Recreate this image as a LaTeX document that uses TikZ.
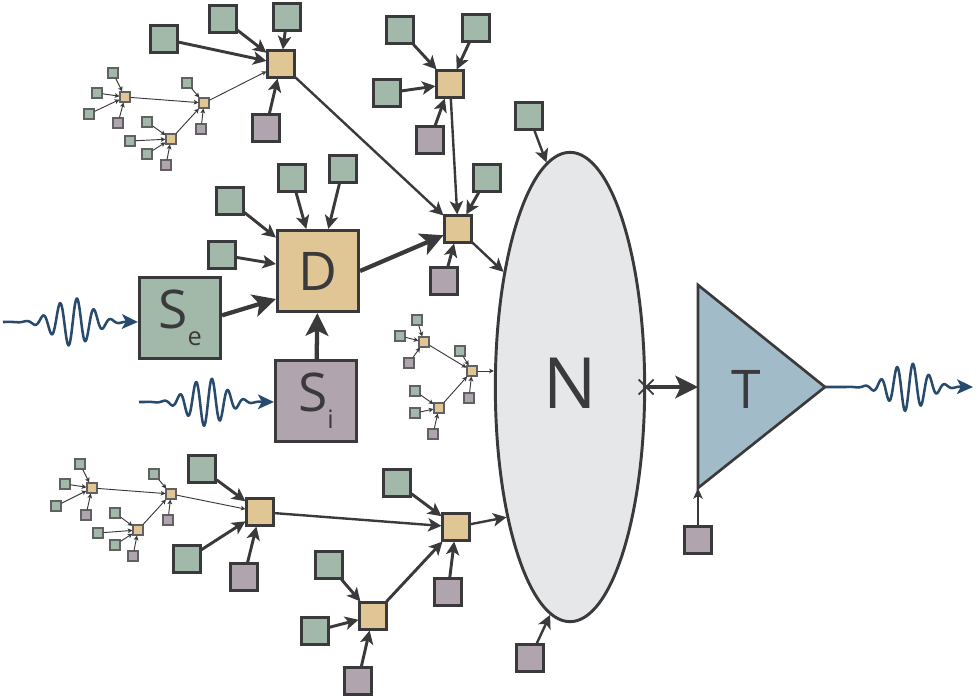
\documentclass[tikz,border=0pt]{standalone}
\usepackage{fontspec}
\setmainfont{Open Sans}
\usetikzlibrary{arrows.meta,shapes.geometric,shapes.misc}
\definecolor{dk}{HTML}{3A3A3C}
\definecolor{cgrn}{HTML}{A2B9A9}
\definecolor{ctan}{HTML}{E0C595}
\definecolor{cpur}{HTML}{B0A5AF}
\definecolor{cell}{HTML}{E6E7E9}
\definecolor{ctri}{HTML}{A1BCC8}
\definecolor{cwave}{HTML}{284A6C}
\tikzset{
    grn/.style={fill=cgrn}, tn/.style={fill=ctan}, pur/.style={fill=cpur},
    med/.style={draw=dk, line width=1.8pt, minimum size=20pt, inner sep=0pt},
    mini/.style={draw=dk!80, line width=0.8pt, minimum size=7.5pt, inner sep=0pt},
    big/.style={draw=dk, line width=2.6pt, minimum size=60.5pt, inner sep=0pt, text=dk},
    marr/.style={draw=dk, line width=2.2pt, -{Stealth[length=10pt,width=10pt,inset=2.5pt]}},
    larr/.style={draw=dk, line width=3.2pt, -{Stealth[length=17pt,width=17pt,inset=4pt]}},
    sarr/.style={draw=dk, line width=0.7pt, -{Stealth[length=3.5pt,width=3.5pt,inset=0.8pt]}},
    wave/.style={draw=cwave, line width=1.9pt, -{Stealth[length=12pt,width=11pt,inset=3pt]}},
}
\begin{document}
\begin{tikzpicture}[x=0.75pt, y=-0.75pt]
    \useasboundingbox (0,0) rectangle (976,700);
    % network and readout
    \node[ellipse, draw=dk, fill=cell, line width=2.2pt, minimum width=112pt,
        minimum height=352pt, inner sep=0pt] (n) at (570,387) {};
    \node[text=dk, font=\fontsize{53}{53}\selectfont] (nl) at (570,383) {N};
    \coordinate (tw) at (698,387);
    \coordinate (tb) at (698,488);
    \coordinate (tr) at (825,387);
    \draw[draw=dk, fill=ctri, line width=2pt, line join=miter] (698,285) -- (tr) -- (tb) -- cycle;
    \node[text=dk, font=\fontsize{40}{40}\selectfont] (tl) at (746,389) {T};
    \node[cross out, draw=dk, line width=1.3pt, minimum size=10pt, inner sep=0pt] (x) at (n.east) {};
    \draw[larr, line width=2.4pt] (n.east) -- (tw);
    % big boxes
    \node[big, tn, font=\fontsize{40}{40}\selectfont] (d) at (318,271) {D};
    \node[big, grn, font=\fontsize{40}{40}\selectfont] (se) at (180,318)
        {S\raisebox{-13pt}{\fontsize{19}{19}\selectfont e}};
    \node[big, pur, font=\fontsize{40}{40}\selectfont] (si) at (316,401)
        {S\raisebox{-13pt}{\fontsize{19}{19}\selectfont i}};
    % medium boxes
    \foreach \n/\x/\y in {a1/281/64, a2/450/84, b/458/229, c1/260/512, c2/456/527, c3/373/616}
        \node[med, tn] (\n) at (\x,\y) {};
    \foreach \n/\x/\y in {a1g1/164/39, a1g2/223/19, a1g3/287/17, a2g1/400/30, a2g2/476/28,
        a2g3/387/93, bg/487/178, ng/529/116, dg1/230/201, dg2/292/178, dg3/343/169,
        dg4/222/255, c1g1/202/469, c1g2/187/559, c2g/397/483, c3g1/329/565, c3g2/315/631}
        \node[med, grn] (\n) at (\x,\y) {};
    \foreach \n/\x/\y in {a1p/266/128, a2p/430/140, bp/444/281, np/530/658, c1p/244/577,
        c2p/448/592, c3p/358/681, tp/698/540}
        \node[med, pur] (\n) at (\x,\y) {};
    % mini clusters
    \foreach \n/\x/\y in {u1/125/97, u2/204/103, u3/171/139, v1/424/342, v2/472/371,
        v3/439/408, w1/92/488, w2/171/494, w3/138/530}
        \node[mini, tn] (\n) at (\x,\y) {};
    \foreach \n/\x/\y in {u1a/113/73, u1b/97/93, u1c/89/114, u2a/187/83, u3a/147/122,
        u3b/130/141, u3c/147/154, v1a/417/320, v1b/400/336, v2a/460/351, v3a/415/391,
        v3b/415/413, w1a/80/464, w1b/65/484, w1c/56/506, w2a/154/474, w3a/115/513,
        w3b/98/533, w3c/115/545}
        \node[mini, grn] (\n) at (\x,\y) {};
    \foreach \n/\x/\y in {u1p/118/123, u2p/201/129, u3p/166/165, v1p/409/363, v2p/469/398,
        v3p/433/434, w1p/86/515, w2p/168/520, w3p/133/556}
        \node[mini, pur] (\n) at (\x,\y) {};
    \foreach \a/\b in {u1a/u1, u1b/u1, u1c/u1, u1p/u1, u2a/u2, u2p/u2, u1/u2, u3/u2,
        u3a/u3, u3b/u3, u3c/u3, u3p/u3, u2/a1, v1a/v1, v1b/v1, v1p/v1, v1/v2, v2a/v2,
        v2p/v2, v3/v2, v3a/v3, v3b/v3, v3p/v3, w1a/w1, w1b/w1, w1c/w1, w1p/w1, w2a/w2,
        w2p/w2, w1/w2, w3/w2, w3a/w3, w3b/w3, w3c/w3, w3p/w3, w2/c1}
        \draw[sarr] (\a) -- (\b);
    \draw[sarr] (v2) -- (v2 -| n.west);
    % connectors
    \foreach \a/\b in {a1g1/a1, a1g2/a1, a1g3/a1, a1p/a1, a2g1/a2, a2g2/a2, a2g3/a2, a2p/a2,
        bg/b, bp/b, dg1/d, dg2/d, dg3/d, dg4/d, c1g1/c1, c1g2/c1, c1p/c1, c2g/c2, c2p/c2,
        c3/c2, c3g1/c3, c3g2/c3, c3p/c3}
        \draw[marr] (\a) -- (\b);
    \draw[marr, line width=1.8pt] (a1) -- (b);
    \draw[marr, line width=1.8pt] (a2) -- (b);
    \draw[marr, line width=1.8pt] (c1) -- (c2);
    \draw[marr, line width=1.8pt] (b) -- (n.120);
    \draw[marr, line width=1.8pt] (c2) -- (n.244);
    \draw[marr, line width=1.8pt] (ng) -- (n.96);
    \draw[marr, line width=1.8pt] (np) -- (n.265);
    \draw[larr] (d.east) -- (b);
    \draw[larr] ([yshift=2pt]se.east) -- ([yshift=-21pt]d.west);
    \draw[larr] (si) -- (d);
    \draw[draw=dk, line width=1.5pt, -{Stealth[length=8pt,width=7pt,inset=2pt]}] (tp) -- (tb);
    % waves
    \coordinate (wi) at (3,322);
    \coordinate (wj) at (139,402);
    \coordinate (wo) at (973,387);
    \draw[wave] (wi) -- plot[domain=10:128, samples=240]
        (\x, {322-24*exp(-((\x-73)/26)^2)*cos(360/17*(\x-77))}) -- (se.west |- wi);
    \draw[wave] (wj) -- plot[domain=145:262, samples=240]
        (\x, {402-24*exp(-((\x-207)/25)^2)*cos(22.5*(\x-212))}) -- (si.west |- wj);
    \draw[wave] (tr) -- plot[domain=845:962, samples=240]
        (\x, {387-24*exp(-((\x-908)/25)^2)*cos(22.5*(\x-913))}) -- (wo);
\end{tikzpicture}
\end{document}
